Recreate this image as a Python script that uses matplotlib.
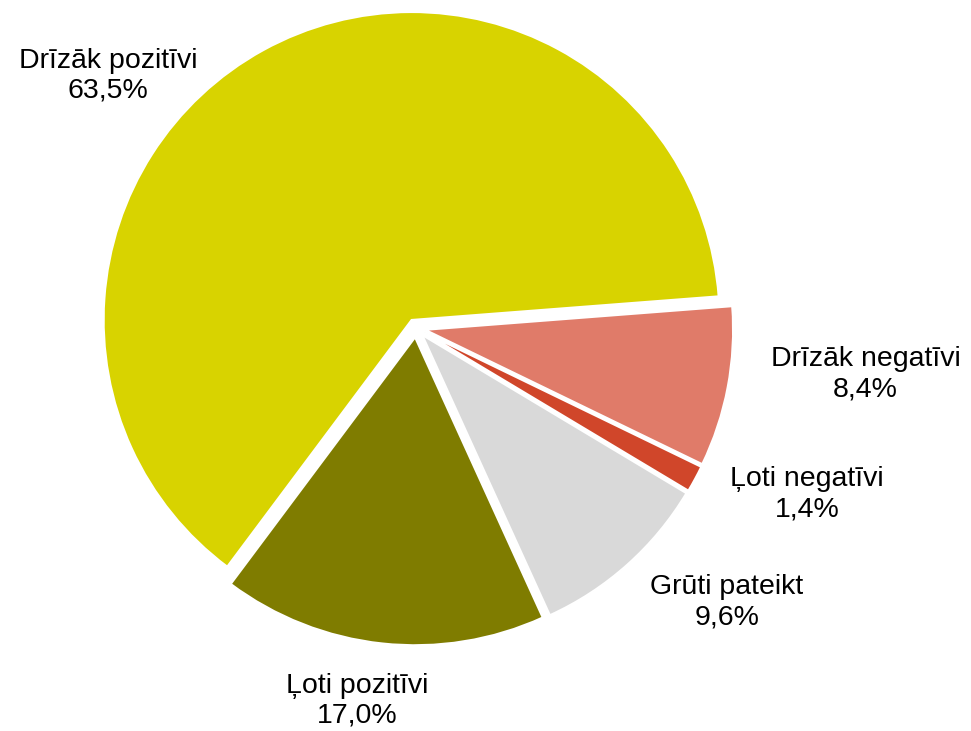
import matplotlib
matplotlib.use("Agg")
import matplotlib.pyplot as plt

categories = ["Drīzāk negatīvi", "Ļoti negatīvi", "Grūti pateikt", "Ļoti pozitīvi", "Drīzāk pozitīvi"]
values = [8.4, 1.4, 9.6, 17.0, 63.5]
value_labels = ["8,4%", "1,4%", "9,6%", "17,0%", "63,5%"]
colors = ["#E07B69", "#D0462A", "#D9D9D9", "#7F7C00", "#D8D300"]

# label anchor positions (layout, in data units of the pie radius)
label_pos = [(1.46, -0.15), (1.27, -0.54), (1.01, -0.89), (-0.19, -1.21), (-1.0, 0.82)]

plt.rcParams['font.family'] = ['Liberation Sans', 'DejaVu Sans']

fig = plt.figure(figsize=(9.71, 7.31), dpi=100)
ax = fig.add_axes([0, 0, 1, 1])
ax.pie(values, colors=colors, startangle=4.4, counterclock=False,
       explode=[0.03] * len(values), radius=1.0,
       wedgeprops=dict(edgecolor="white", linewidth=1.5))
for cat, vl, (x, y) in zip(categories, value_labels, label_pos):
    ax.text(x, y, f"{cat}\n{vl}", ha="center", va="center", fontsize=20.5,
            color="black", linespacing=1.2)

ax.set_xlim(-1.351, 1.802)
ax.set_ylim(-1.308, 1.065)
ax.set_aspect("equal")
ax.axis("off")
fig.savefig("out.png", dpi=100)
